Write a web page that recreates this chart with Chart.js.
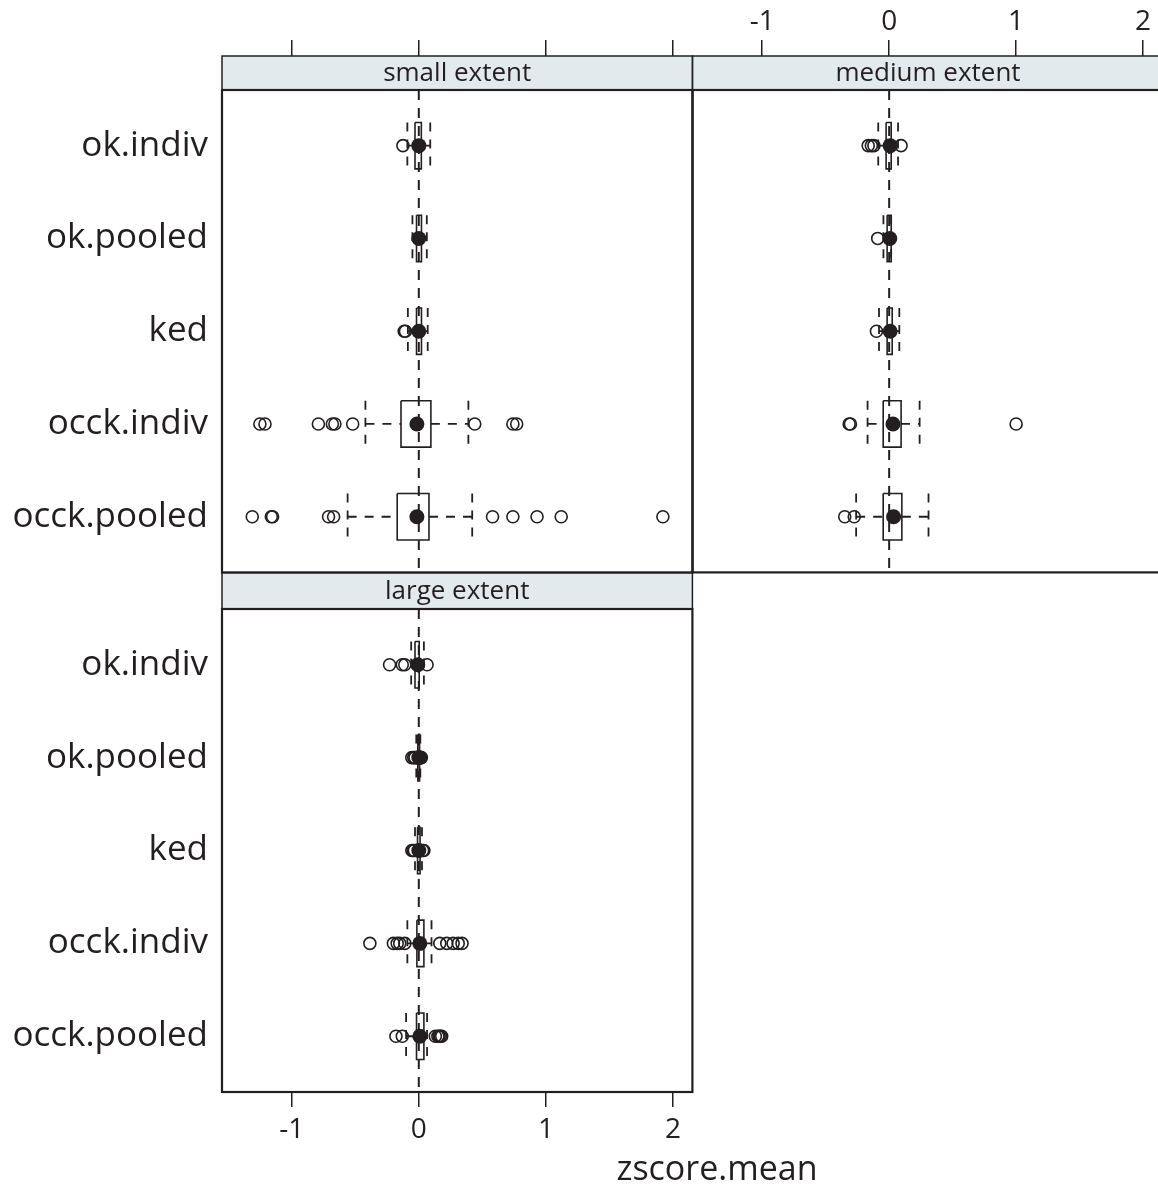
<!DOCTYPE html>
<html><head><meta charset="utf-8">
<script src="https://cdn.jsdelivr.net/npm/chart.js@4.4.0/dist/chart.umd.min.js"></script>
<style>
html,body{margin:0;padding:0;width:1158px;height:1189px;overflow:hidden;background:#fff;}
.pane{position:absolute;}
#xtitle{position:absolute;left:517px;top:1150px;width:400px;text-align:center;font-family:"Open Sans",sans-serif;font-size:34px;line-height:34px;color:#231f20;}
</style></head><body>
<div class="pane" style="left:0;top:0;"><canvas id="cA" width="700" height="580"></canvas></div>
<div class="pane" style="left:685px;top:0;"><canvas id="cB" width="485" height="580"></canvas></div>
<div class="pane" style="left:0;top:520px;"><canvas id="cC" width="700" height="669"></canvas></div>
<div id="xtitle">zscore.mean</div>
<script>
// ---- data ----
const categories = ['ok.indiv','ok.pooled','ked','occk.indiv','occk.pooled'];
const panelNames = ['small extent','medium extent','large extent'];
const xTickValues = [-1, 0, 1, 2];
const xTickLabels = ['-1', '0', '1', '2'];
const xRange = [-1.548, 2.152];

// small extent
const smallLower  = [-0.09, -0.05, -0.086, -0.42, -0.56];
const smallQ1     = [-0.03, -0.018, -0.018, -0.14, -0.17];
const smallMedian = [0.0, 0.0, 0.0, -0.015, -0.015];
const smallQ3     = [0.02, 0.021, 0.021, 0.095, 0.08];
const smallUpper  = [0.09, 0.063, 0.07, 0.39, 0.42];
const smallOutliers = [
  [-0.125],
  [],
  [-0.115, -0.105],
  [-1.25, -1.21, -0.79, -0.68, -0.66, -0.52, 0.44, 0.74, 0.77],
  [-1.31, -1.16, -1.15, -0.71, -0.67, 0.58, 0.74, 0.93, 1.12, 1.92]
];

// medium extent
const mediumLower  = [-0.086, -0.045, -0.08, -0.17, -0.26];
const mediumQ1     = [-0.024, -0.016, -0.016, -0.047, -0.047];
const mediumMedian = [0.008, 0.005, 0.008, 0.03, 0.035];
const mediumQ3     = [0.016, 0.016, 0.024, 0.094, 0.10];
const mediumUpper  = [0.07, 0.016, 0.08, 0.24, 0.31];
const mediumOutliers = [
  [-0.165, -0.14, -0.12, 0.094],
  [-0.09],
  [-0.10],
  [-0.315, -0.305, 1.0],
  [-0.35, -0.275]
];

// large extent
const largeLower  = [-0.06, -0.02, -0.03, -0.09, -0.10];
const largeQ1     = [-0.03, -0.008, -0.01, -0.015, -0.018];
const largeMedian = [-0.008, 0.0, 0.0, 0.008, 0.008];
const largeQ3     = [0.003, 0.006, 0.01, 0.04, 0.04];
const largeUpper  = [0.04, 0.012, 0.025, 0.10, 0.065];
const largeOutliers = [
  [-0.23, -0.13, -0.11, 0.065],
  [-0.055, -0.04, -0.03, 0.015, 0.02],
  [-0.055, -0.045, -0.035, 0.03, 0.04],
  [-0.385, -0.20, -0.17, -0.15, -0.11, 0.165, 0.22, 0.27, 0.31, 0.34],
  [-0.18, -0.13, 0.13, 0.15, 0.16, 0.17, 0.18]
];

// ---- styling ----
const INK = '#231f20';
const STRIP = '#e2eaed';
const FONT = '"Open Sans", sans-serif';
const HALF = 0.25; // half box height in category units

function buildDatasets(lower, q1, med, q3, upper, outl) {
  const boxPts = [], whiskPts = [], medPts = [], outPts = [];
  categories.forEach((c, i) => {
    const y = i + 1;
    boxPts.push({x:q1[i],y:y-HALF},{x:q3[i],y:y-HALF},{x:q3[i],y:y+HALF},{x:q1[i],y:y+HALF},{x:q1[i],y:y-HALF},{x:q1[i],y:null});
    whiskPts.push({x:lower[i],y:y},{x:q1[i],y:y},{x:q1[i],y:null});
    whiskPts.push({x:q3[i],y:y},{x:upper[i],y:y},{x:upper[i],y:null});
    whiskPts.push({x:lower[i],y:y-HALF},{x:lower[i],y:y+HALF},{x:lower[i],y:null});
    whiskPts.push({x:upper[i],y:y-HALF},{x:upper[i],y:y+HALF},{x:upper[i],y:null});
    medPts.push({x:med[i],y:y});
    outl[i].forEach(v => outPts.push({x:v,y:y}));
  });
  return [
    {label:'median', data:medPts, order:0, pointRadius:7.5, pointBackgroundColor:INK, pointBorderColor:INK, pointBorderWidth:0, showLine:false},
    {label:'outliers', data:outPts, order:1, pointRadius:6, pointBackgroundColor:'rgba(0,0,0,0)', pointBorderColor:INK, pointBorderWidth:1.6, showLine:false},
    {label:'box', data:boxPts, order:2, showLine:true, spanGaps:false, borderColor:INK, borderWidth:1.6, pointRadius:0, fill:false, tension:0},
    {label:'whiskers', data:whiskPts, order:3, showLine:true, spanGaps:false, borderColor:INK, borderWidth:1.8, borderDash:[9,8], pointRadius:0, fill:false, tension:0},
    {label:'ref', data:[{x:0,y:0.4},{x:0,y:5.6}], order:4, showLine:true, borderColor:INK, borderWidth:2, borderDash:[10,8], pointRadius:0, fill:false}
  ];
}

const framePlugin = {
  id: 'frame',
  afterDraw(chart, args, opts) {
    const ctx = chart.ctx, a = chart.chartArea;
    const h = opts.stripHeight;
    ctx.save();
    ctx.fillStyle = STRIP;
    ctx.fillRect(a.left, a.top - h, a.right - a.left, h);
    ctx.strokeStyle = INK;
    ctx.lineWidth = 1.5;
    ctx.strokeRect(a.left, a.top - h, a.right - a.left, h);
    ctx.fillStyle = INK;
    ctx.font = '26px ' + FONT;
    ctx.textAlign = 'center';
    ctx.textBaseline = 'middle';
    const cx = opts.textCenter != null ? opts.textCenter : (a.left + a.right) / 2;
    ctx.fillText(opts.title, cx, a.top - h / 2 + 1);
    ctx.lineWidth = 2.2;
    ctx.strokeRect(a.left, a.top, a.right - a.left, a.bottom - a.top);
    ctx.restore();
  }
};

function zeroPad(s) { s.paddingTop = 0; s.paddingBottom = 0; s.paddingLeft = 0; s.paddingRight = 0; }

function yScale(show) {
  return {
    type:'linear', min:0.4, max:5.6, reverse:true, display:show,
    afterBuildTicks: s => { s.ticks = categories.map((c,i)=>({value:i+1})); },
    afterFit: s => { if (show) s.width = 222; zeroPad(s); },
    grid:{display:false, drawTicks:false}, border:{display:false},
    ticks:{color:INK, font:{family:FONT, size:35}, padding:14, callback: v => categories[v-1]}
  };
}
function xScale(position, labels, tickLen, height) {
  return {
    type:'linear', position, min:xRange[0], max:xRange[1],
    afterBuildTicks: s => { s.ticks = xTickValues.map(v=>({value:v})); },
    afterFit: s => { s.height = height; zeroPad(s); },
    grid:{display:true, drawOnChartArea:false, drawTicks:true, tickLength:tickLen, color:INK, lineWidth:1.5},
    border:{display:false},
    ticks:{display:labels, color:INK, font:{family:FONT, size:28}, padding:(position === 'top' ? 1 : 6), maxRotation:0,
      callback: v => xTickLabels[xTickValues.indexOf(v)]}
  };
}
function makeChart(id, datasets, scales, padding, strip) {
  return new Chart(document.getElementById(id), {
    type:'scatter',
    data:{datasets},
    options:{
      responsive:false, animation:false, devicePixelRatio:1,
      layout:{padding},
      plugins:{legend:{display:false}, tooltip:{enabled:false}, frame:strip},
      scales
    },
    plugins:[framePlugin]
  });
}

makeChart('cA', buildDatasets(smallLower, smallQ1, smallMedian, smallQ3, smallUpper, smallOutliers),
  {x:xScale('top', false, 50, 90), y:yScale(true)},
  {left:0, right:7, top:0, bottom:7}, {title:panelNames[0], stripHeight:34});

makeChart('cB', buildDatasets(mediumLower, mediumQ1, mediumMedian, mediumQ3, mediumUpper, mediumOutliers),
  {x:xScale('top', true, 50, 90), y:yScale(false)},
  {left:3, right:6, top:0, bottom:7}, {title:panelNames[1], stripHeight:34, textCenter:243});

makeChart('cC', buildDatasets(largeLower, largeQ1, largeMedian, largeQ3, largeUpper, largeOutliers),
  {x:xScale('bottom', true, 15, 97), y:yScale(true)},
  {left:0, right:7, top:89, bottom:0}, {title:panelNames[2], stripHeight:36});
</script>
</body></html>
